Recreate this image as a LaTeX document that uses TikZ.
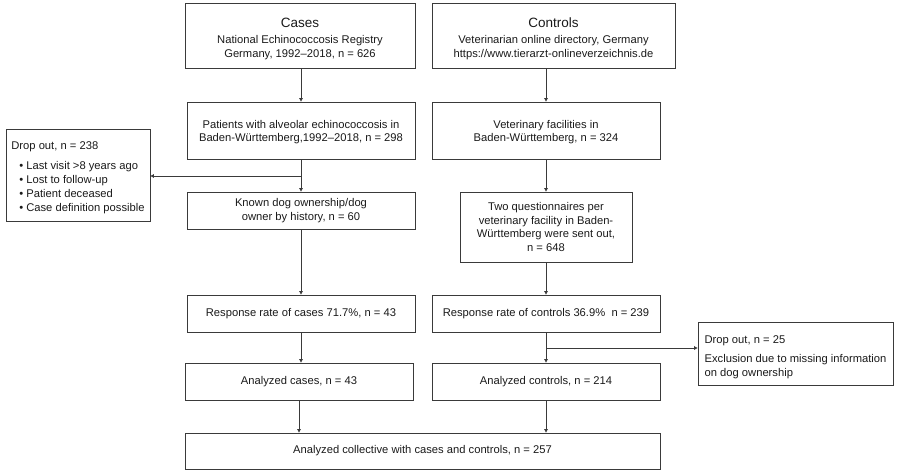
\documentclass[tikz,border=0pt]{standalone}
\usepackage{fontspec}
\setmainfont{Liberation Sans}
\usetikzlibrary{arrows.meta}
\definecolor{linec}{HTML}{3A3A3A}
\definecolor{textc}{HTML}{1A1A1A}
\newcommand{\topstrut}[1]{\rule{0pt}{#1}}
\begin{document}
\begin{tikzpicture}[x=1pt,y=-1pt,
  box/.style={draw=linec, line width=0.8pt, rectangle, align=center, inner sep=2pt,
    font=\fontsize{11.2}{13.8}\selectfont, text=textc},
  lbox/.style={box, align=left},
  conn/.style={draw=linec, line width=0.8pt},
  arr/.style={conn, -{Triangle[length=3.5pt,width=3.5pt]}}]
\useasboundingbox (0,0) rectangle (900,474);

% top row
\node[box, minimum width=230pt, minimum height=65pt] (cases) at (300,35.5)
  {{\fontsize{13.5}{16}\selectfont\topstrut{16pt}Cases}\\[2pt]National Echinococcosis Registry\\Germany, 1992–2018, n = 626};
\node[box, minimum width=243pt, minimum height=65pt] (controls) at (553.5,35.5)
  {{\fontsize{13.5}{16}\selectfont\topstrut{16pt}Controls}\\[2pt]Veterinarian online directory, Germany\\https://www.tierarzt-onlineverzeichnis.de};

% second row
\node[box, minimum width=228pt, minimum height=57pt] (pat) at (301,130.5)
  {\topstrut{11.5pt}Patients with alveolar echinococcosis in\\Baden-Württemberg,1992–2018, n = 298};
\node[box, minimum width=228pt, minimum height=57pt] (vet) at (546,130.5)
  {\topstrut{11.5pt}Veterinary facilities in\\Baden-Württemberg, n = 324};

% third row
\node[box, minimum width=228pt, minimum height=37pt] (dog) at (301,210.5)
  {Known dog ownership/dog\\owner by history, n = 60};
\node[box, minimum width=172pt, minimum height=70pt] (quest) at (546,227)
  {Two questionnaires per\\veterinary facility in Baden-\\Württemberg were sent out,\\n = 648};

% fourth row
\node[box, minimum width=228pt, minimum height=37pt] (resp1) at (301,313.5)
  {Response rate of cases 71.7\%, n = 43};
\node[box, minimum width=228pt, minimum height=37pt] (resp2) at (546,313.5)
  {Response rate of controls 36.9\%\ \ n = 239};

% fifth row
\node[box, minimum width=228pt, minimum height=37pt] (an1) at (299,381.5)
  {Analyzed cases, n = 43};
\node[box, minimum width=228pt, minimum height=37pt] (an2) at (546,381.5)
  {Analyzed controls, n = 214};

% final
\node[box, minimum width=475pt, minimum height=36pt] (final) at (422.5,451)
  {Analyzed collective with cases and controls, n = 257};

% drop out boxes
\node[lbox, minimum width=144pt, minimum height=92pt] (drop1) at (78,175)
  {\topstrut{13.5pt}Drop out, n = 238\\[6pt]
   \hspace*{8pt}•\hspace{3pt}Last visit >8 years ago\\
   \hspace*{8pt}•\hspace{3pt}Lost to follow-up\\
   \hspace*{8pt}•\hspace{3pt}Patient deceased\\
   \hspace*{8pt}•\hspace{3pt}Case definition possible};
\node[lbox, minimum width=195pt, minimum height=63pt] (drop2) at (795.5,353.5)
  {\topstrut{15.5pt}Drop out, n = 25\\[5pt]Exclusion due to missing information\\on dog ownership};

% branch points
\coordinate (b1) at (301,176);
\coordinate (b2) at (546,348);

% connectors
\draw[arr] (pat.north |- cases.south) -- (pat.north);
\draw[arr] (vet.north |- controls.south) -- (vet.north);
\draw[arr] (pat.south) -- (dog.north);
\draw[arr] (b1) -- (b1 -| drop1.east);
\draw[arr] (vet.south) -- (quest.north);
\draw[arr] (dog.south) -- (resp1.north);
\draw[arr] (quest.south) -- (resp2.north);
\draw[arr] (resp1.south) -- (resp1.south |- an1.north);
\draw[arr] (resp2.south) -- (an2.north);
\draw[arr] (b2) -- (b2 -| drop2.west);
\draw[arr] (an1.south) -- (an1.south |- final.north);
\draw[arr] (an2.south) -- (an2.south |- final.north);
\end{tikzpicture}
\end{document}
